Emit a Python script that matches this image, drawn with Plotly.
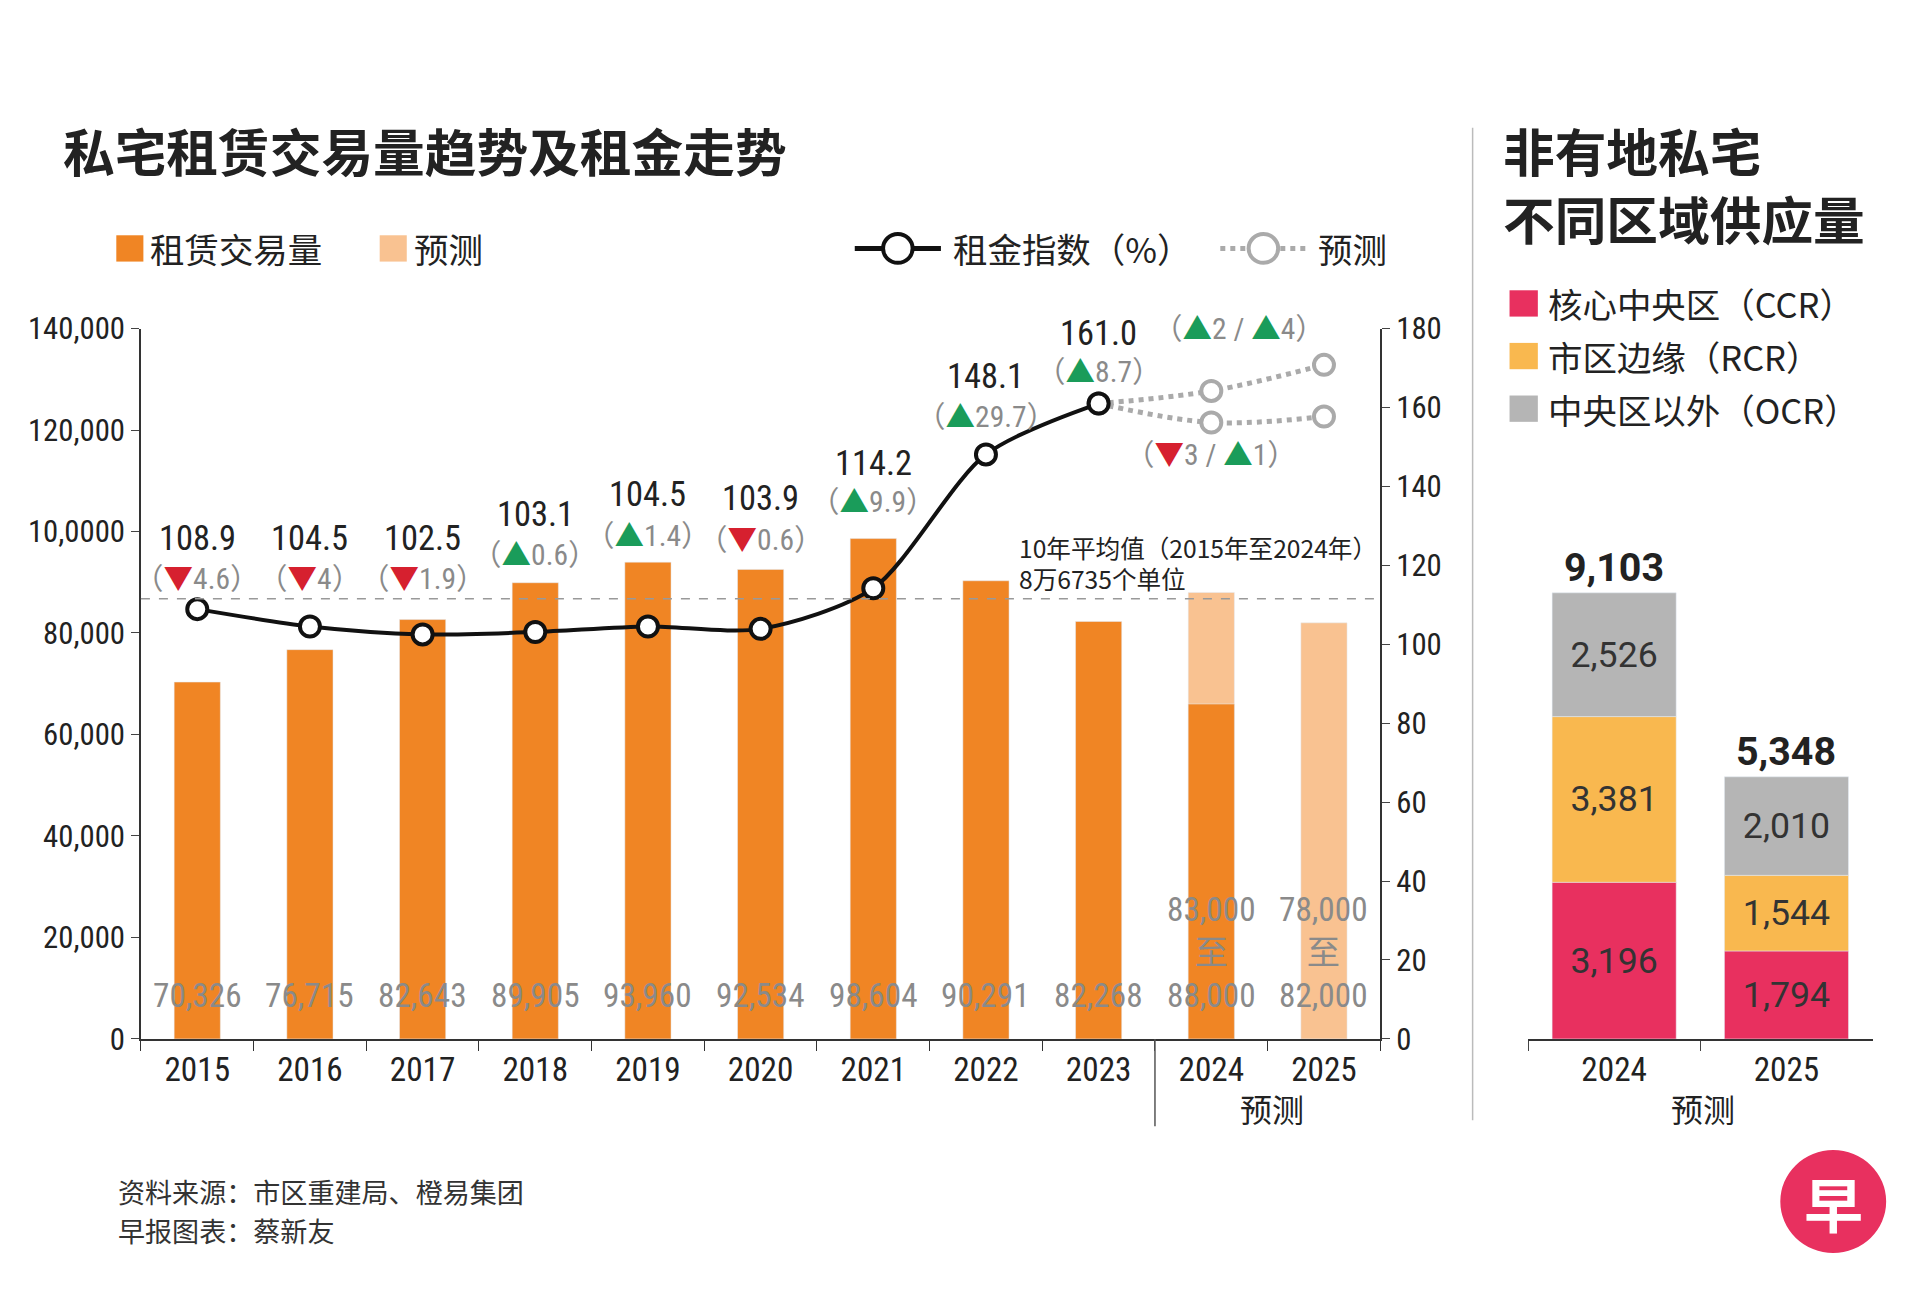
import plotly.graph_objects as go

W, H = 1920, 1307
S = 1920 / 1560.0
def px(x): return x / 1560.0
def py(y): return 1 - y / 1062.0
def fs(s): return s * S

FONT = "Noto Sans CJK SC"
NUM = "Liberation Sans Narrow, Roboto Condensed, Noto Sans CJK SC"

years = ["2015","2016","2017","2018","2019","2020","2021","2022","2023","2024","2025"]
vol_actual = [70326, 76715, 82643, 89905, 93960, 92534, 98604, 90291, 82268, 66000, None]
vol_forecast = [None]*9 + [88000, 82000]
vol_labels = ["70,326","76,715","82,643","89,905","93,960","92,534","98,604","90,291","82,268",
              "83,000<br>至<br>88,000","78,000<br>至<br>82,000"]
rent_years = years[:9]
rent_index = [108.9, 104.5, 102.5, 103.1, 104.5, 103.9, 114.2, 148.1, 161.0]
rent_change = [("d","4.6"),("d","4"),("d","1.9"),("u","0.6"),("u","1.4"),("d","0.6"),("u","9.9"),("u","29.7"),("u","8.7")]
fc_years = ["2023","2024","2025"]
fc_high = [161.0, 164.2, 170.8]
fc_low = [161.0, 156.2, 157.7]
avg_volume = 86735
left_ticks = [0,20000,40000,60000,80000,100000,120000,140000]
left_ticktext = ["0","20,000","40,000","60,000","80,000","10,0000","120,000","140,000"]

sup_years = ["2024","2025"]
ccr = [3196, 1794]
rcr = [3381, 1544]
ocr = [2526, 2010]
totals = [9103, 5348]

ORANGE = "#f08524"; LIGHT = "#f9c291"
CCR_C = "#e8305f"; RCR_C = "#f9b84f"; OCR_C = "#b5b5b5"
RED = "#d6202f"; GREEN = "#1a9c5a"; GREY = "#8a8a8a"

fig = go.Figure()
fig.add_bar(x=years, y=vol_forecast, marker_color=LIGHT, width=0.41, xaxis="x", yaxis="y", showlegend=False)
fig.add_bar(x=years, y=vol_actual, marker_color=ORANGE, width=0.41, xaxis="x", yaxis="y", showlegend=False)
fig.add_scatter(x=fc_years, y=fc_high, mode="lines+markers", line=dict(color="#aaaaaa", width=5, dash="dot", shape="spline"),
                marker=dict(size=20, color="white", line=dict(color="#aaaaaa", width=4)), xaxis="x", yaxis="y2", showlegend=False)
fig.add_scatter(x=fc_years, y=fc_low, mode="lines+markers", line=dict(color="#aaaaaa", width=5, dash="dot", shape="spline"),
                marker=dict(size=20, color="white", line=dict(color="#aaaaaa", width=4)), xaxis="x", yaxis="y2", showlegend=False)
fig.add_scatter(x=rent_years, y=rent_index, mode="lines+markers", line=dict(color="#111111", width=4, shape="spline", smoothing=0.8),
                marker=dict(size=20, color="white", line=dict(color="#111111", width=4)), xaxis="x", yaxis="y2", showlegend=False)

bases = [[0, 0], ccr, [a + b for a, b in zip(ccr, rcr)]]
for (name, vals, col), base in zip([("CCR", ccr, CCR_C), ("RCR", rcr, RCR_C), ("OCR", ocr, OCR_C)], bases):
    fig.add_bar(x=sup_years, y=vals, base=base, marker_color=col, width=0.72, xaxis="x3", yaxis="y3",
                text=[f"{v:,}" for v in vals], textposition="inside", insidetextanchor="middle",
                textfont=dict(size=fs(29), color="#333333", family="Roboto"), showlegend=False)

ann = []
def A(x, y, text, size, color="#222", xanchor="left", yanchor="middle", xref="paper", yref="paper", bold=False, yshift=0, family=FONT):
    if bold: text = f"<b>{text}</b>"
    ann.append(dict(x=x, y=y, xref=xref, yref=yref, text=text, showarrow=False, xanchor=xanchor, yanchor=yanchor,
                    yshift=yshift, font=dict(size=size, color=color, family=family)))

A(px(43), py(103), "私宅租赁交易量趋势及租金走势", fs(42), bold=True)
A(px(1213), py(103), "非有地私宅", fs(42), bold=True)
A(px(1213), py(160), "不同区域供应量", fs(42), bold=True)
A(px(114), py(186), "租赁交易量", fs(28))
A(px(328), py(186), "预测", fs(28))
A(px(766), py(186), "租金指数（%）", fs(28))
A(px(1063), py(186), "预测", fs(28))
A(px(1250), py(232), "核心中央区（CCR）", fs(28))
A(px(1250), py(276), "市区边缘（RCR）", fs(28))
A(px(1250), py(320), "中央区以外（OCR）", fs(28))

val_y = [127, 127, 127, 133, 138, 137, 146, 168, 179]
chg_y = [116.5, 116.5, 116.5, 122.5, 127.5, 126.5, 136, 157.5, 169]
for i in range(len(rent_years)):
    A(i, val_y[i], f"{rent_index[i]:.1f}", fs(28), "#222", "center", xref="x", yref="y2", family=NUM)
    d, v = rent_change[i]
    tri = f"<span style='color:{GREEN}'>▲</span>" if d == "u" else f"<span style='color:{RED}'>▼</span>"
    A(i, chg_y[i], f"（{tri}{v}）", fs(24), GREY, "center", xref="x", yref="y2", family=NUM)
A(9.25, 180, f"（<span style='color:{GREEN}'>▲</span>2 / <span style='color:{GREEN}'>▲</span>4）", fs(24), GREY, "center", xref="x", yref="y2", family=NUM)
A(9.0, 148, f"（<span style='color:{RED}'>▼</span>3 / <span style='color:{GREEN}'>▲</span>1）", fs(24), GREY, "center", xref="x", yref="y2", family=NUM)

A(px(820), py(436), "10年平均值（2015年至2024年）", fs(20))
A(px(820), py(462), "8万6735个单位", fs(20))

for i in range(len(years)):
    A(i, 0, vol_labels[i], fs(27), GREY, "center", "bottom", xref="x", yref="y", yshift=22, family=NUM)

for i in range(len(sup_years)):
    A(i, totals[i], f"{totals[i]:,}", fs(32), "#222", "center", "bottom", xref="x3", yref="y3", bold=True, family="Roboto")

A(px(1027), py(905), "预测", fs(26), "#222", "center")
A(px(1377), py(905), "预测", fs(26), "#222", "center")
A(px(88), py(975), "资料来源：市区重建局、橙易集团", fs(22), "#333")
A(px(88), py(1007), "早报图表：蔡新友", fs(22), "#333")
A(px(1483), py(983), "<b>早</b>", fs(48), "white", "center")

shapes = [
    dict(type="rect", xref="paper", yref="paper", x0=px(88), x1=px(110), y0=py(197), y1=py(175), fillcolor=ORANGE, line_width=0),
    dict(type="rect", xref="paper", yref="paper", x0=px(302), x1=px(324), y0=py(197), y1=py(175), fillcolor=LIGHT, line_width=0),
    dict(type="line", xref="paper", yref="paper", x0=px(688), x1=px(758), y0=py(186), y1=py(186), line=dict(color="#111", width=5)),
    dict(type="line", xref="paper", yref="paper", x0=px(985), x1=px(1055), y0=py(186), y1=py(186), line=dict(color="#aaa", width=5, dash="dot")),
    dict(type="rect", xref="paper", yref="paper", x0=px(1220), x1=px(1243), y0=py(243), y1=py(221), fillcolor=CCR_C, line_width=0),
    dict(type="rect", xref="paper", yref="paper", x0=px(1220), x1=px(1243), y0=py(287), y1=py(265), fillcolor=RCR_C, line_width=0),
    dict(type="rect", xref="paper", yref="paper", x0=px(1220), x1=px(1243), y0=py(331), y1=py(309), fillcolor=OCR_C, line_width=0),
    dict(type="line", xref="paper", yref="paper", x0=px(1190), x1=px(1190), y0=py(85), y1=py(915), line=dict(color="#bbb", width=1.5)),
    dict(type="line", xref="x", yref="paper", x0=8.5, x1=8.5, y0=py(847), y1=py(920), line=dict(color="#555", width=1.5)),
    dict(type="line", xref="paper", yref="y", x0=px(108), x1=px(1115), y0=avg_volume, y1=avg_volume, line=dict(color="#999", width=1.5, dash="dash")),
    dict(type="circle", xref="paper", yref="paper", x0=px(1440), x1=px(1526), y0=py(1026), y1=py(940), fillcolor="#e8305f", line_width=0),
    dict(type="circle", xref="paper", yref="paper", x0=px(711), x1=px(735), y0=py(198), y1=py(174), fillcolor="white", line=dict(color="#111", width=4)),
    dict(type="circle", xref="paper", yref="paper", x0=px(1008), x1=px(1032), y0=py(198), y1=py(174), fillcolor="white", line=dict(color="#aaa", width=4)),
]

tickf = dict(size=fs(25), color="#222", family=NUM)
fig.update_layout(
    width=W, height=H, margin=dict(l=0, r=0, t=0, b=0), paper_bgcolor="white", plot_bgcolor="white",
    barmode="overlay", annotations=ann, shapes=shapes, font=dict(family=FONT),
    xaxis=dict(domain=[px(108), px(1115)], type="category", range=[-0.5, 10.5], tickson="boundaries",
               ticks="outside", ticklen=10, tickcolor="#333", showline=True, linecolor="#333", linewidth=1.5,
               tickfont=dict(size=fs(27), color="#222", family=NUM), showgrid=False, anchor="y"),
    yaxis=dict(domain=[py(847), py(253)], range=[0, 140000], tickvals=left_ticks, ticktext=left_ticktext,
               ticks="outside", ticklen=8, showline=True, linecolor="#333", linewidth=1.5, tickfont=tickf,
               showgrid=False, zeroline=False),
    yaxis2=dict(overlaying="y", side="right", range=[0, 180], tickvals=list(range(0, 181, 20)),
                ticktext=["0","20","40","60","80","100","120","140","160","180"],
                ticks="outside", ticklen=8, showline=True, linecolor="#333", linewidth=1.5, tickfont=tickf,
                showgrid=False, zeroline=False, anchor="x"),
    xaxis3=dict(domain=[px(1235), px(1515)], type="category", range=[-0.5, 1.5], tickson="boundaries",
                ticks="outside", ticklen=10, showline=True, linecolor="#333", linewidth=1.5,
                tickfont=dict(size=fs(27), color="#222", family=NUM), showgrid=False, anchor="y3"),
    yaxis3=dict(domain=[py(847), py(253)], range=[0, 9103 * 594 / 373], visible=False, anchor="x3"),
)
fig.write_html("out.html")
